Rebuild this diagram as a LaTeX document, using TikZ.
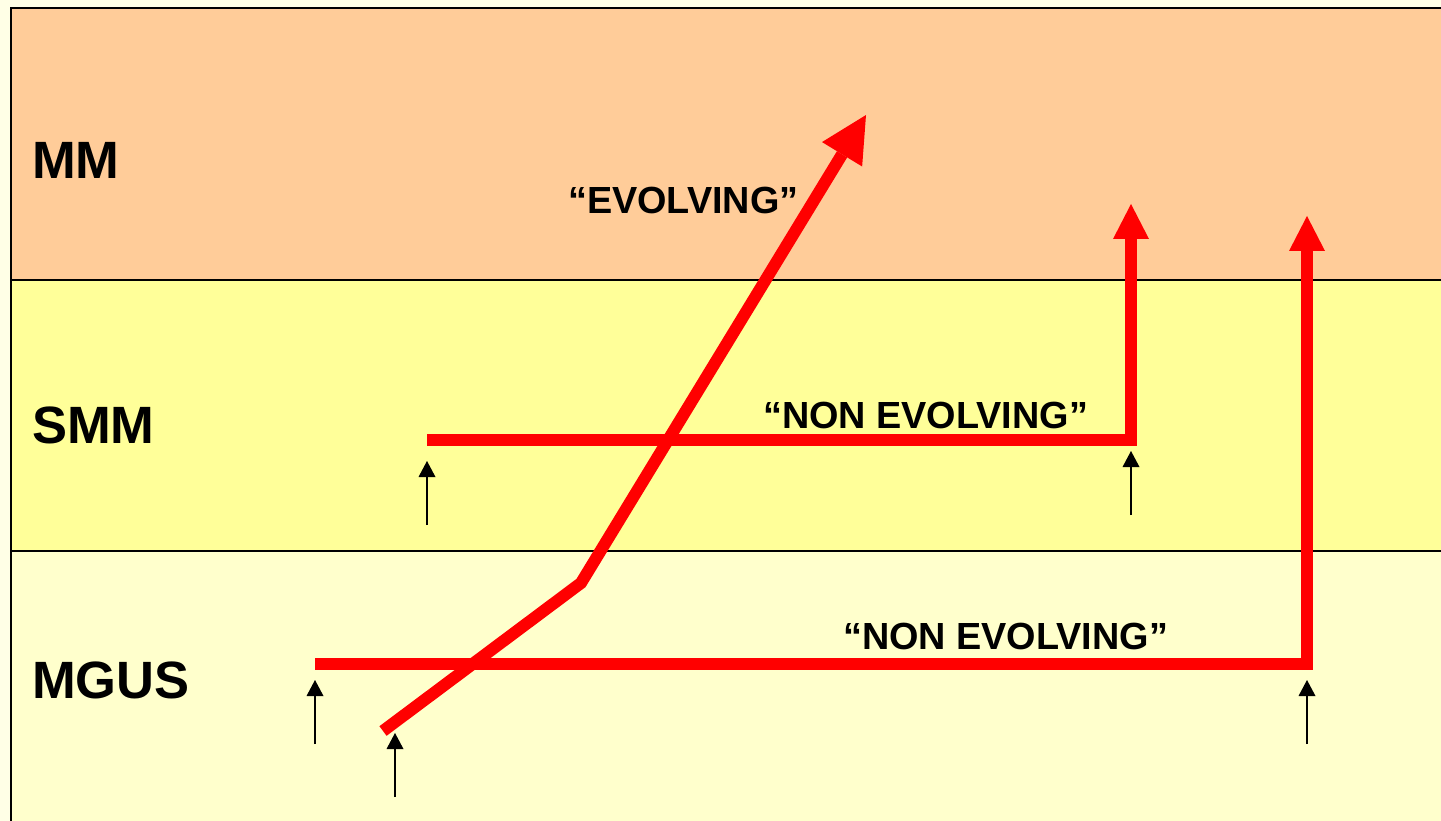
\documentclass[tikz,border=0pt]{standalone}
\usepackage{fontspec}
\setmainfont{Liberation Sans}
\usetikzlibrary{arrows.meta}
\definecolor{bgout}{RGB}{255,255,230}
\definecolor{mmcol}{RGB}{255,204,153}
\definecolor{smmcol}{RGB}{255,255,153}
\definecolor{mguscol}{RGB}{255,255,204}
\definecolor{redline}{RGB}{255,0,0}
\tikzset{
  bandlabel/.style={anchor=west, inner sep=0pt, font=\bfseries\fontsize{52.5}{60}\selectfont},
  quotelabel/.style={anchor=west, inner sep=0pt, font=\bfseries\fontsize{37.8}{44}\selectfont},
  redpath/.style={draw=redline, line width=12pt, line join=miter},
  bigtip/.style={-{Triangle[length=46pt,width=47pt,line width=0pt]}},
  midtip/.style={-{Triangle[length=35pt,width=36pt,line width=0pt]}},
  smallarrow/.style={draw=black, line width=2.5pt, -{Triangle[length=16pt,width=17pt,line width=0pt]}},
  frameline/.style={draw=black, line width=2.5pt},
  sepline/.style={draw=black, line width=1.5pt}
}
\begin{document}
\begin{tikzpicture}[x=1pt,y=-1pt]
\useasboundingbox (0,0) rectangle (1441,821);
\fill[bgout] (0,0) rectangle (1441,821);
% bands
\fill[mmcol] (11,8) rectangle (1460,280);
\fill[smmcol] (11,280) rectangle (1460,551);
\fill[mguscol] (11,551) rectangle (1460,840);
\draw[sepline] (11,280) -- (1460,280);
\draw[sepline] (11,551) -- (1460,551);
\draw[frameline] (11,840) -- (11,8) -- (1460,8);
% band labels
\node[bandlabel] (mm) at (32,160) {MM};
\node[bandlabel] (smm) at (32,425) {SMM};
\node[bandlabel] (mgus) at (32,680) {MGUS};
% quote labels
\node[quotelabel] (evo) at (568,200) {“EVOLVING”};
\node[quotelabel] (nonevo1) at (763,415) {“NON EVOLVING”};
\node[quotelabel] (nonevo2) at (843,636) {“NON EVOLVING”};
% coordinates for the red paths
\coordinate (evostart) at (383,731);
\coordinate (evobend) at (581,583);
\coordinate (evotip) at (866,115);
\coordinate (smmstart) at (427,440);
\coordinate (smmcorner) at (1131,440);
\coordinate (smmtip) at (1131,204);
\coordinate (mgusstart) at (315,664);
\coordinate (mguscorner) at (1307,664);
\coordinate (mgustip) at (1307,216);
% red paths
\draw[redpath, midtip] (smmstart) -- (smmcorner) -- (smmtip);
\draw[redpath, midtip] (mgusstart) -- (mguscorner) -- (mgustip);
\draw[redpath, bigtip] (evostart) -- (evobend) -- (evotip);
% small black arrows
\coordinate (a1s) at (427,525); \coordinate (a1t) at (427,461);
\coordinate (a2s) at (1131,515); \coordinate (a2t) at (1131,451);
\coordinate (a3s) at (315,744); \coordinate (a3t) at (315,680);
\coordinate (a4s) at (395,797); \coordinate (a4t) at (395,733);
\coordinate (a5s) at (1307,744); \coordinate (a5t) at (1307,680);
\draw[smallarrow] (a1s) -- (a1t);
\draw[smallarrow] (a2s) -- (a2t);
\draw[smallarrow] (a3s) -- (a3t);
\draw[smallarrow] (a4s) -- (a4t);
\draw[smallarrow] (a5s) -- (a5t);
\end{tikzpicture}
\end{document}
